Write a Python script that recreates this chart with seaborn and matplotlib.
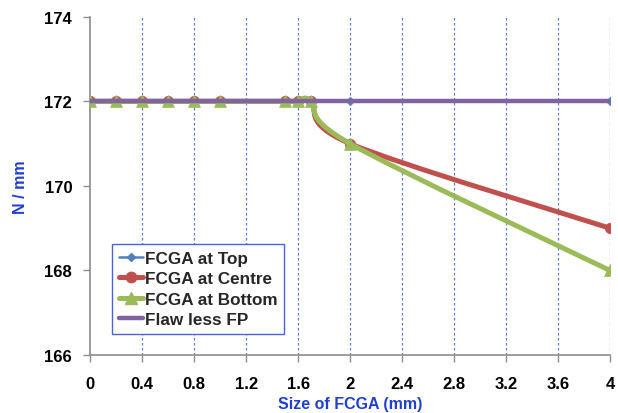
import matplotlib
matplotlib.use("Agg")
import matplotlib.pyplot as plt
import seaborn as sns
import pandas as pd
import numpy as np
from matplotlib.path import Path
from matplotlib.patches import PathPatch
from matplotlib.lines import Line2D

# Data
fcga_size = [0, 0.2, 0.4, 0.6, 0.8, 1.0, 1.5, 1.6, 1.7, 2, 4]
n_top = [172, 172, 172, 172, 172, 172, 172, 172, 172, 172, 172]
n_centre = [172, 172, 172, 172, 172, 172, 172, 172, 172, 171, 169]
n_bottom = [172, 172, 172, 172, 172, 172, 172, 172, 172, 171, 168]
flawless_x = [0, 4]
flawless_y = [172, 172]

x_ticks = [0, 0.4, 0.8, 1.2, 1.6, 2, 2.4, 2.8, 3.2, 3.6, 4]
x_tick_labels = ["0", "0.4", "0.8", "1.2", "1.6", "2", "2.4", "2.8", "3.2", "3.6", "4"]
y_ticks = [166, 168, 170, 172, 174]

c_top = "#4F81BD"
c_centre = "#C0504D"
c_bottom = "#9BBB59"
c_flaw = "#8064A2"
c_label = "#1F3FD0"

sns.set_theme(style="white")
plt.rcParams['font.family'] = ['Liberation Sans', 'DejaVu Sans']


def smooth_path(xs, ys):
    # Excel-style smoothed line: Catmull-Rom as cubic Bezier segments
    p = np.column_stack([xs, ys]).astype(float)
    verts = [p[0]]
    codes = [Path.MOVETO]
    n = len(p)
    for i in range(n - 1):
        p0 = p[i - 1] if i > 0 else p[i]
        p3 = p[i + 2] if i + 2 < n else p[i + 1]
        c1 = p[i] + (p[i + 1] - p0) / 6.0
        c2 = p[i + 1] - (p3 - p[i]) / 6.0
        verts += [c1, c2, p[i + 1]]
        codes += [Path.CURVE4] * 3
    return Path(verts, codes)


fig = plt.figure(figsize=(6.18, 4.14), dpi=100)
ax = fig.add_axes([0.146, 0.140, 0.841, 0.817])

df = pd.DataFrame({"size": fcga_size, "top": n_top, "centre": n_centre, "bottom": n_bottom})

# Top series
ax.add_patch(PathPatch(smooth_path(fcga_size, n_top), fill=False, edgecolor=c_top, lw=1.8, zorder=3))
sns.scatterplot(data=df, x="size", y="top", ax=ax, color=c_top, marker="D", s=20,
                edgecolor=c_top, zorder=3, legend=False)

# Centre series
ax.add_patch(PathPatch(smooth_path(fcga_size, n_centre), fill=False, edgecolor=c_centre, lw=3.6,
                       capstyle="round", zorder=4))
sns.scatterplot(data=df, x="size", y="centre", ax=ax, color=c_centre, marker="o", s=55,
                edgecolor=c_centre, zorder=4, legend=False)

# Bottom series
ax.add_patch(PathPatch(smooth_path(fcga_size, n_bottom), fill=False, edgecolor=c_bottom, lw=3.6,
                       capstyle="round", zorder=5))
sns.scatterplot(data=df, x="size", y="bottom", ax=ax, color=c_bottom, marker="^", s=70,
                edgecolor=c_bottom, zorder=5, legend=False)

# Flawless FP
sns.lineplot(x=flawless_x, y=flawless_y, ax=ax, color=c_flaw, lw=3.2, zorder=6)

ax.set_xlim(0, 4)
ax.set_ylim(166, 174)
ax.set_xticks(x_ticks)
ax.set_xticklabels(x_tick_labels)
ax.set_yticks(y_ticks)

for gx in x_ticks[1:]:
    ax.axvline(gx, color="#5A78EA", lw=0.9, ls=(0, (2, 2)), zorder=1)

for s in ["top", "right"]:
    ax.spines[s].set_visible(False)
for s in ["left", "bottom"]:
    ax.spines[s].set_color("#8C8C8C")
    ax.spines[s].set_linewidth(1.2)

ax.tick_params(axis="both", which="major", direction="out", length=5, width=1,
               color="#8C8C8C", labelsize=12, bottom=True, left=True)
ax.tick_params(axis="x", pad=10)
ax.tick_params(axis="y", pad=8)
for lab in ax.get_xticklabels() + ax.get_yticklabels():
    lab.set_fontweight("bold")
    lab.set_color("black")

ax.set_xlabel("Size of FCGA (mm)", color=c_label, fontsize=11.5, fontweight="bold", labelpad=4)
ax.set_ylabel("N / mm", color=c_label, fontsize=11.5, fontweight="bold", labelpad=12)

handles = [
    Line2D([], [], color=c_top, lw=1.8, marker="D", ms=4),
    Line2D([], [], color=c_centre, lw=3.6, marker="o", ms=7.5),
    Line2D([], [], color=c_bottom, lw=3.6, marker="^", ms=8),
    Line2D([], [], color=c_flaw, lw=3.2),
]
labels = ["FCGA at Top", "FCGA at Centre", "FCGA at Bottom", "Flaw less FP"]
leg = ax.legend(handles, labels, loc="lower left", bbox_to_anchor=(0.042, 0.062),
                frameon=True, fancybox=False, handlelength=1.4, handletextpad=0.1,
                borderpad=0.4, labelspacing=0.32, borderaxespad=0,
                prop={"weight": "bold", "size": 12.3})
leg.get_frame().set_edgecolor("#4A64D8")
leg.get_frame().set_linewidth(1.0)
leg.get_frame().set_facecolor("white")
leg.get_frame().set_alpha(1)
leg.set_zorder(10)

fig.savefig("out.png", dpi=100)
